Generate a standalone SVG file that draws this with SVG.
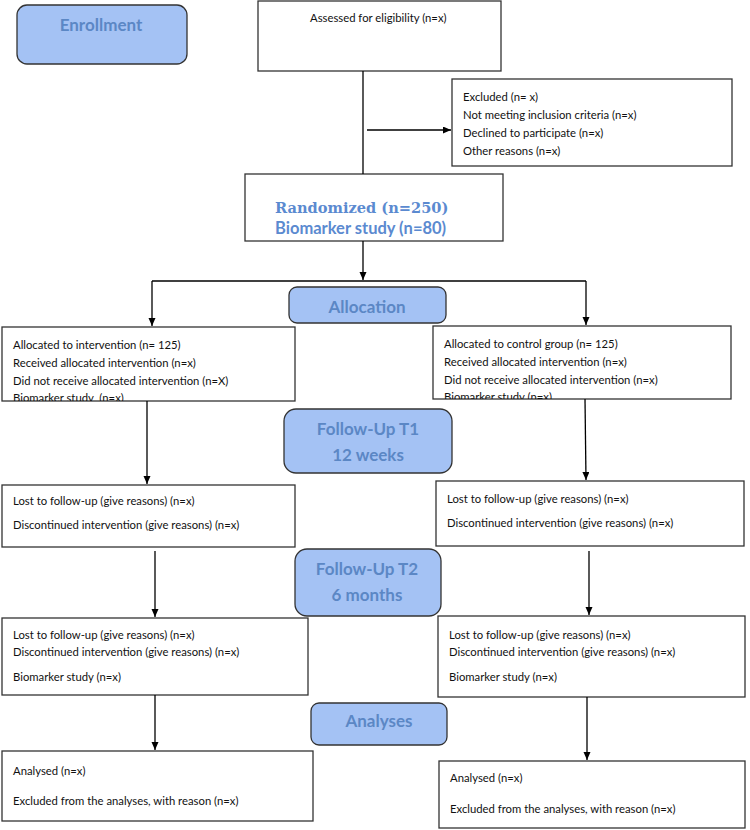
<svg xmlns="http://www.w3.org/2000/svg" width="750" height="830" viewBox="0 0 750 830">
<style>
.box{fill:#ffffff;stroke:#333333;stroke-width:1.3}
.hdr{fill:#a4c2f4;stroke:#333333;stroke-width:1.3}
.ht{font-family:Lato,"Liberation Sans",sans-serif;font-weight:bold;font-size:17px;fill:#5b87c5;text-anchor:middle}
.t{font-family:Lato,"Liberation Sans",sans-serif;font-size:11.3px;fill:#111111}
.rt{font-family:"DejaVu Serif","Liberation Serif",serif;font-weight:bold;font-size:14.6px;fill:#5b8ad0}
.rb{font-family:Lato,"Liberation Sans",sans-serif;font-weight:bold;font-size:16.5px;fill:#5b8ad0}
.ln{fill:none;stroke:#000000;stroke-width:1.3}
</style>
<defs>
<marker id="ah" markerUnits="userSpaceOnUse" markerWidth="8" markerHeight="8" refX="8" refY="3.5" orient="auto">
<path d="M0,0 L8,3.5 L0,7 z" fill="#000000"/>
</marker>
<clipPath id="clipL"><rect x="2" y="327" width="293" height="74"/></clipPath>
<clipPath id="clipR"><rect x="433" y="326" width="298" height="73"/></clipPath>
</defs>

<g id="enrollment">
<rect class="hdr" x="17" y="5" width="170" height="59" rx="10"/>
<text class="ht" x="101" y="31">Enrollment</text>
</g>

<g id="assessed">
<rect class="box" x="258" y="1" width="243" height="70"/>
<text class="t" x="310" y="22">Assessed for eligibility (n=x)</text>
</g>

<g id="excluded">
<rect class="box" x="452" y="79" width="280" height="87"/>
<text class="t" x="463" y="101">Excluded (n= x)</text>
<text class="t" x="463" y="119">Not meeting inclusion criteria (n=x)</text>
<text class="t" x="463" y="137">Declined to participate (n=x)</text>
<text class="t" x="463" y="155">Other reasons (n=x)</text>
</g>

<g id="randomized">
<rect class="box" x="245" y="174" width="258" height="67"/>
<text class="rt" x="275" y="213">Randomized (n=250)</text>
<text class="rb" x="275" y="234">Biomarker study (n=80)</text>
</g>

<g id="allocation">
<rect class="hdr" x="289" y="287" width="157" height="36" rx="8"/>
<text class="ht" x="367" y="313">Allocation</text>
</g>

<g id="alloc-intervention">
<rect class="box" x="2" y="327" width="293" height="74"/>
<text class="t" x="13" y="349">Allocated to intervention (n= 125)</text>
<text class="t" x="13" y="367">Received allocated intervention (n=x)</text>
<text class="t" x="13" y="385">Did not receive allocated intervention (n=X)</text>
<text class="t" x="13" y="402" clip-path="url(#clipL)" xml:space="preserve">Biomarker study  (n=x)</text>
</g>

<g id="alloc-control">
<rect class="box" x="433" y="326" width="298" height="73"/>
<text class="t" x="444" y="348">Allocated to control group (n= 125)</text>
<text class="t" x="444" y="366">Received allocated intervention (n=x)</text>
<text class="t" x="444" y="384">Did not receive allocated intervention (n=x)</text>
<text class="t" x="444" y="401" clip-path="url(#clipR)">Biomarker study (n=x)</text>
</g>

<g id="followup-t1">
<rect class="hdr" x="284" y="409" width="168" height="64" rx="12"/>
<text class="ht" x="368" y="435">Follow-Up T1</text>
<text class="ht" x="368" y="461">12 weeks</text>
</g>

<g id="t1-left">
<rect class="box" x="2" y="485" width="293" height="62"/>
<text class="t" x="13" y="505">Lost to follow-up (give reasons) (n=x)</text>
<text class="t" x="13" y="529">Discontinued intervention (give reasons) (n=x)</text>
</g>

<g id="t1-right">
<rect class="box" x="436" y="481" width="308" height="65"/>
<text class="t" x="447" y="503">Lost to follow-up (give reasons) (n=x)</text>
<text class="t" x="447" y="527">Discontinued intervention (give reasons) (n=x)</text>
</g>

<g id="followup-t2">
<rect class="hdr" x="295" y="549" width="146" height="67" rx="12"/>
<text class="ht" x="367" y="575">Follow-Up T2</text>
<text class="ht" x="367" y="601">6 months</text>
</g>

<g id="t2-left">
<rect class="box" x="2" y="618" width="306" height="77"/>
<text class="t" x="13" y="639">Lost to follow-up (give reasons) (n=x)</text>
<text class="t" x="13" y="656">Discontinued intervention (give reasons) (n=x)</text>
<text class="t" x="13" y="681">Biomarker study (n=x)</text>
</g>

<g id="t2-right">
<rect class="box" x="438" y="616" width="307" height="81"/>
<text class="t" x="449" y="639">Lost to follow-up (give reasons) (n=x)</text>
<text class="t" x="449" y="656">Discontinued intervention (give reasons) (n=x)</text>
<text class="t" x="449" y="681">Biomarker study (n=x)</text>
</g>

<g id="analyses">
<rect class="hdr" x="311" y="703" width="136" height="42" rx="8"/>
<text class="ht" x="379" y="727">Analyses</text>
</g>

<g id="analysed-left">
<rect class="box" x="2" y="751" width="311" height="70"/>
<text class="t" x="13" y="775">Analysed (n=x)</text>
<text class="t" x="13" y="805">Excluded from the analyses, with reason (n=x)</text>
</g>

<g id="analysed-right">
<rect class="box" x="439" y="761" width="306" height="67"/>
<text class="t" x="450" y="782">Analysed (n=x)</text>
<text class="t" x="450" y="813">Excluded from the analyses, with reason (n=x)</text>
</g>

<g id="connectors">
<path class="ln" d="M363,71 V174"/>
<path class="ln" d="M367,130 H451" marker-end="url(#ah)"/>
<path class="ln" d="M363,241 V280" marker-end="url(#ah)"/>
<path class="ln" d="M152,281 H586"/>
<path class="ln" d="M152,281 V326" marker-end="url(#ah)"/>
<path class="ln" d="M586,281 V325" marker-end="url(#ah)"/>
<path class="ln" d="M147,401 V484" marker-end="url(#ah)"/>
<path class="ln" d="M585,399 L586,480" marker-end="url(#ah)"/>
<path class="ln" d="M155,551 V617" marker-end="url(#ah)"/>
<path class="ln" d="M589,551 V615" marker-end="url(#ah)"/>
<path class="ln" d="M155,695 V750" marker-end="url(#ah)"/>
<path class="ln" d="M587,697 V760" marker-end="url(#ah)"/>
</g>
</svg>
